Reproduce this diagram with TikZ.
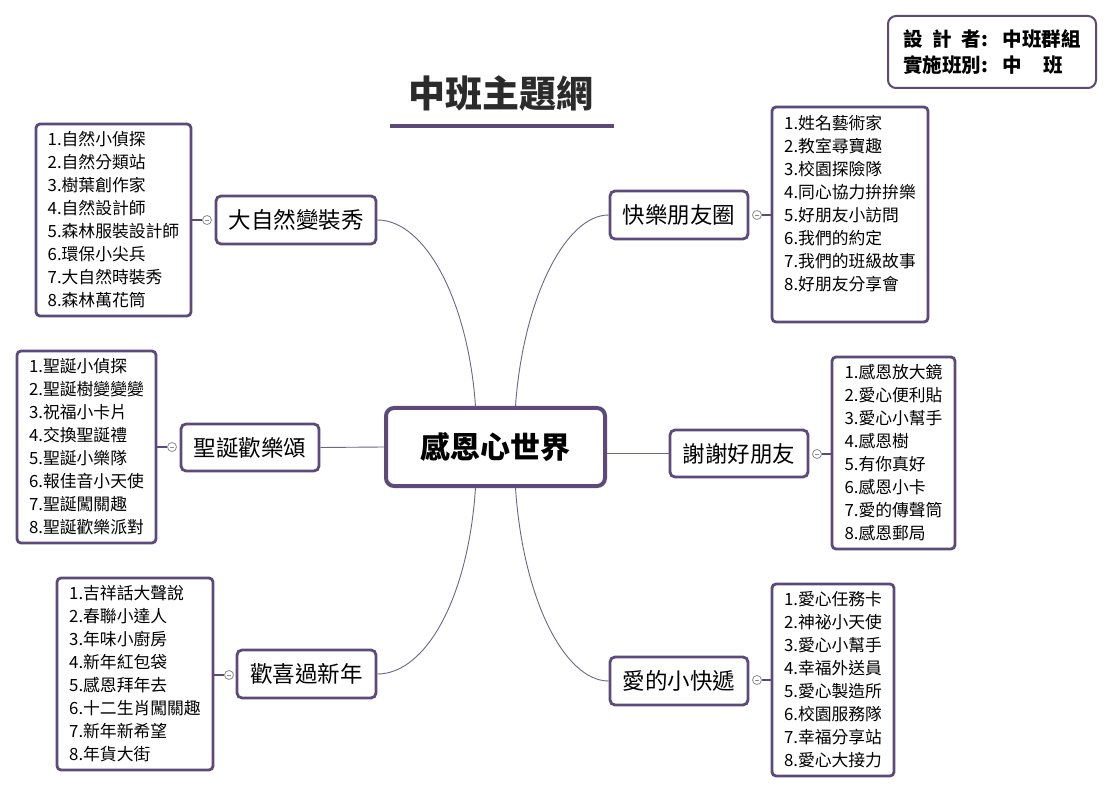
\documentclass[tikz,border=0pt]{standalone}
\usepackage{fontspec}
\setmainfont{Noto Sans CJK TC}
\definecolor{frame}{HTML}{5C4B7A}
\definecolor{wirecol}{HTML}{6F6585}
\definecolor{markgray}{HTML}{8C8C8C}
\definecolor{titlecol}{HTML}{2B2B2B}
\tikzset{
  branch/.style={draw=frame, line width=2.8pt, rounded corners=5pt, fill=white,
    font=\fontsize{22.5}{26}\selectfont, inner sep=0pt},
  listbox/.style={draw=frame, line width=2.8pt, rounded corners=4pt, fill=white,
    font=\fontsize{16.8}{23}\selectfont, align=left, inner sep=0pt, minimum height=192pt},
  hub/.style={draw=frame, line width=4pt, rounded corners=8pt, fill=white,
    font=\fontsize{30}{34}\selectfont\bfseries, inner sep=0pt},
  wire/.style={draw=wirecol, line width=0.9pt},
  stub/.style={draw=frame, line width=2.2pt},
  marker/.style={circle, draw=markgray, fill=white, line width=0.8pt, minimum size=9pt, inner sep=0pt,
    path picture={\draw[markgray, line width=0.7pt] ([xshift=-2.2pt]path picture bounding box.center) -- ([xshift=2.2pt]path picture bounding box.center);}},
}
\begin{document}
\begin{tikzpicture}[x=1pt,y=-1pt]
\useasboundingbox[fill=white] (0,0) rectangle (1112,794);

% title
\node[font=\fontsize{37}{42}\selectfont\bfseries, text=titlecol] (title) at (501,93) {中班主題網};
\draw[frame, line width=4pt] (390,126) -- (614,126);

% info box
\node[draw=frame, line width=2pt, rounded corners=8pt, fill=white, minimum width=208pt, minimum height=72pt,
  align=left, font=\fontsize{19.5}{26}\selectfont\bfseries] (info) at (992,52)
  {\makebox[4em][s]{設\hfill 計\hfill 者}:\hspace{0.75em}中班群組\\
   實施班別:\hspace{0.75em}中\hspace{1.1em}班};

% central
\node[hub, minimum width=219pt, minimum height=78pt] (c) at (495.5,447) {感恩心世界};

% branches
\node[branch, minimum width=160pt, minimum height=48pt] (b1) at (296,220) {大自然變裝秀};
\node[branch, minimum width=138pt, minimum height=48pt] (b2) at (679,215) {快樂朋友圈};
\node[branch, minimum width=138pt, minimum height=47pt] (b3) at (250,447.5) {聖誕歡樂頌};
\node[branch, minimum width=138pt, minimum height=47pt] (b4) at (739,453.5) {謝謝好朋友};
\node[branch, minimum width=139pt, minimum height=48pt] (b5) at (306.5,674) {歡喜過新年};
\node[branch, minimum width=138pt, minimum height=48pt] (b6) at (679,681) {愛的小快遞};

% lists
\node[listbox, minimum width=155pt] (l1) at (113.5,220)
 {1.自然小偵探\\2.自然分類站\\3.樹葉創作家\\4.自然設計師\\5.森林服裝設計師\\6.環保小尖兵\\7.大自然時裝秀\\8.森林萬花筒};
\node[listbox, minimum width=156pt, minimum height=215pt] (l2) at (850,214.5)
 {1.姓名藝術家\\2.教室尋寶趣\\3.校園探險隊\\4.同心協力拚拚樂\\5.好朋友小訪問\\6.我們的約定\\7.我們的班級故事\\8.好朋友分享會\\ \mbox{}};
\node[listbox, minimum width=139pt] (l3) at (86.5,447)
 {1.聖誕小偵探\\2.聖誕樹變變變\\3.祝福小卡片\\4.交換聖誕禮\\5.聖誕小樂隊\\6.報佳音小天使\\7.聖誕闖關趣\\8.聖誕歡樂派對};
\node[listbox, minimum width=123pt] (l4) at (893.5,453)
 {1.感恩放大鏡\\2.愛心便利貼\\3.愛心小幫手\\4.感恩樹\\5.有你真好\\6.感恩小卡\\7.愛的傳聲筒\\8.感恩郵局};
\node[listbox, minimum width=156pt] (l5) at (135,674)
 {1.吉祥話大聲說\\2.春聯小達人\\3.年味小廚房\\4.新年紅包袋\\5.感恩拜年去\\6.十二生肖闖關趣\\7.新年新希望\\8.年貨大街};
\node[listbox, minimum width=122pt] (l6) at (833,680)
 {1.愛心任務卡\\2.神祕小天使\\3.愛心小幫手\\4.幸福外送員\\5.愛心製造所\\6.校園服務隊\\7.幸福分享站\\8.愛心大接力};

% collapse markers
\node[marker] (m1) at (207,220) {};
\node[marker] (m2) at (757,215) {};
\node[marker] (m3) at (172,447) {};
\node[marker] (m4) at (817,454) {};
\node[marker] (m5) at (229,675) {};
\node[marker] (m6) at (757,680) {};
\draw[stub] (l1.east |- m1) -- (m1.west);
\draw[stub] (m2.east) -- (l2.west |- m2);
\draw[stub] (l3.east |- m3) -- (m3.west);
\draw[stub] (m4.east) -- (l4.west |- m4);
\draw[stub] (l5.east |- m5) -- (m5.west);
\draw[stub] (m6.east) -- (l6.west |- m6);

% connectors from centre
\draw[wire] ([xshift=-20pt]c.north) .. controls (468,300) and (425,220) .. (b1.east);
\draw[wire] ([xshift=20pt]c.north) .. controls (523,300) and (565,215) .. (b2.west);
\draw[wire] (c.west) -- (b3.east);
\draw[wire] (c.east |- b4.west) -- (b4.west);
\draw[wire] ([xshift=-20pt]c.south) .. controls (468,600) and (425,674) .. (b5.east);
\draw[wire] ([xshift=20pt]c.south) .. controls (523,600) and (565,681) .. (b6.west);
\end{tikzpicture}
\end{document}
